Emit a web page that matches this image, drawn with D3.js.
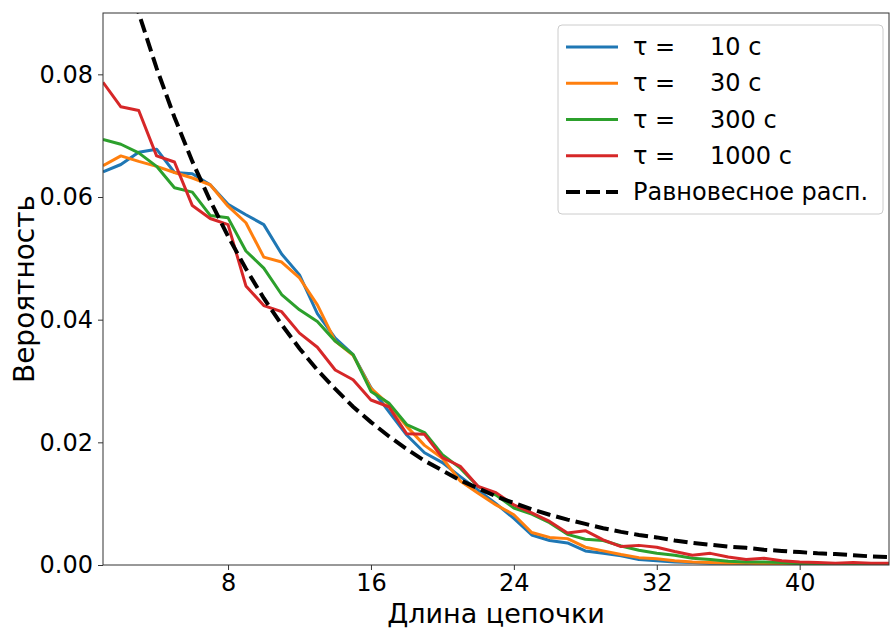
<!DOCTYPE html>
<html>
<head>
<meta charset="utf-8">
<script src="https://cdn.jsdelivr.net/npm/d3@7"></script>
<style>
  body { margin: 0; background: #fff; }
  text { font-family: "DejaVu Sans", sans-serif; fill: #000; }
</style>
</head>
<body>
<script>
// chain lengths
var lengths = d3.range(1, 46);

var tauLabels = ["10 с", "30 с", "300 с", "1000 с"];

var tau10 = [0.0641, 0.0653, 0.0673, 0.0678, 0.0640, 0.0638, 0.0620, 0.0588, 0.0571, 0.0555,
             0.0507, 0.0473, 0.0410, 0.0370, 0.0343, 0.0289, 0.0250, 0.0212, 0.0183, 0.0167,
             0.0144, 0.0122, 0.0100, 0.0076, 0.0049, 0.0040, 0.0036, 0.0023, 0.0019, 0.0015,
             0.0009, 0.0007, 0.0005, 0.0004, 0.0003, 0.0003, 0.0002, 0.0002, 0.0001, 0.0001,
             0.0001, 0.0000, 0.0000, 0.0000, 0.0000];

var tau30 = [0.0651, 0.0667, 0.0658, 0.0650, 0.0640, 0.0631, 0.0620, 0.0585, 0.0558, 0.0502,
             0.0494, 0.0468, 0.0424, 0.0365, 0.0342, 0.0288, 0.0262, 0.0226, 0.0195, 0.0174,
             0.0137, 0.0117, 0.0098, 0.0082, 0.0053, 0.0045, 0.0043, 0.0029, 0.0023, 0.0017,
             0.0012, 0.0010, 0.0007, 0.0005, 0.0004, 0.0003, 0.0003, 0.0002, 0.0002, 0.0001,
             0.0001, 0.0000, 0.0000, 0.0000, 0.0000];

var tau300 = [0.0694, 0.0686, 0.0672, 0.0650, 0.0615, 0.0608, 0.0570, 0.0566, 0.0512, 0.0484,
              0.0441, 0.0416, 0.0397, 0.0365, 0.0343, 0.0283, 0.0264, 0.0229, 0.0216, 0.0180,
              0.0158, 0.0128, 0.0114, 0.0093, 0.0083, 0.0069, 0.0050, 0.0042, 0.0040, 0.0031,
              0.0024, 0.0019, 0.0016, 0.0011, 0.0009, 0.0006, 0.0005, 0.0005, 0.0004, 0.0002,
              0.0001, 0.0001, 0.0000, 0.0000, 0.0000];

var tau1000 = [0.0787, 0.0747, 0.0741, 0.0667, 0.0657, 0.0586, 0.0565, 0.0555, 0.0455, 0.0423,
               0.0413, 0.0378, 0.0355, 0.0318, 0.0302, 0.0269, 0.0258, 0.0214, 0.0213, 0.0175,
               0.0161, 0.0128, 0.0118, 0.0098, 0.0085, 0.0071, 0.0052, 0.0056, 0.0041, 0.0030,
               0.0032, 0.0029, 0.0022, 0.0016, 0.0019, 0.0013, 0.0009, 0.0011, 0.0007, 0.0005,
               0.0004, 0.0003, 0.0004, 0.0003, 0.0003];

// equilibrium distribution (dashed)
var equil = [0.1110, 0.1000, 0.0900, 0.0810, 0.0730, 0.0658, 0.0594, 0.0536, 0.0483, 0.0435,
             0.0392, 0.0353, 0.0318, 0.0287, 0.0258, 0.0233, 0.0210, 0.0189, 0.0170, 0.0154,
             0.0138, 0.0125, 0.0112, 0.0101, 0.0091, 0.0082, 0.0074, 0.0067, 0.0060, 0.0054,
             0.0049, 0.0045, 0.0040, 0.0036, 0.0033, 0.0030, 0.0028, 0.0025, 0.0023, 0.0021,
             0.0019, 0.0018, 0.0016, 0.0014, 0.0013];

var xTicks = [8, 16, 24, 32, 40];
var yTicks = [0, 0.02, 0.04, 0.06, 0.08];

var seriesList = [tau10, tau30, tau300, tau1000];
var colors = ["#1f77b4", "#ff7f0e", "#2ca02c", "#d62728"];

var width = 890, height = 628,
    margin = {top: 13, left: 103, bottom: 63, right: 1},
    plotW = width - margin.left - margin.right,
    plotH = height - margin.top - margin.bottom;

var svg = d3.select("body").append("svg")
    .attr("width", width)
    .attr("height", height);

var x = d3.scaleLinear().domain([1, 45]).range([margin.left, margin.left + plotW]);
var y = d3.scaleLinear().domain([0, 0.09]).range([margin.top + plotH, margin.top]);

svg.append("clipPath")
    .attr("id", "plotclip")
    .append("rect")
    .attr("x", margin.left)
    .attr("y", margin.top)
    .attr("width", plotW)
    .attr("height", plotH);

var line = d3.line()
    .x(function (d, i) { return x(lengths[i]); })
    .y(function (d) { return y(d); });

var plot = svg.append("g").attr("clip-path", "url(#plotclip)");

seriesList.forEach(function (s, k) {
    plot.append("path")
        .datum(s)
        .attr("d", line)
        .attr("fill", "none")
        .attr("stroke", colors[k])
        .attr("stroke-width", 3)
        .attr("stroke-linejoin", "round");
});

plot.append("path")
    .datum(equil)
    .attr("d", line)
    .attr("fill", "none")
    .attr("stroke", "#000")
    .attr("stroke-width", 4)
    .attr("stroke-dasharray", "14,6");

// axes
var xAxis = svg.append("g")
    .attr("transform", "translate(0," + (margin.top + plotH) + ")")
    .call(d3.axisBottom(x).tickValues(xTicks).tickSize(5).tickPadding(4).tickFormat(d3.format("d")));

var yAxis = svg.append("g")
    .attr("transform", "translate(" + margin.left + ",0)")
    .call(d3.axisLeft(y).tickValues(yTicks).tickSize(5).tickPadding(5).tickFormat(d3.format(".2f")));

[xAxis, yAxis].forEach(function (a) {
    a.select(".domain").remove();
    a.selectAll("line").attr("stroke", "#333").attr("stroke-width", 1);
    a.selectAll("text").style("font-size", "24px").attr("fill", "#000");
});

// frame
svg.append("rect")
    .attr("x", margin.left)
    .attr("y", margin.top)
    .attr("width", plotW)
    .attr("height", plotH)
    .attr("fill", "none")
    .attr("stroke", "#333")
    .attr("stroke-width", 1);

svg.append("text")
    .attr("x", margin.left + plotW / 2)
    .attr("y", 623)
    .attr("text-anchor", "middle")
    .style("font-size", "27px")
    .text("Длина цепочки");

svg.append("text")
    .attr("transform", "translate(34," + (margin.top + plotH / 2) + ") rotate(-90)")
    .attr("text-anchor", "middle")
    .style("font-size", "28px")
    .text("Вероятность");

// legend
var legend = svg.append("g");

legend.append("rect")
    .attr("x", 558)
    .attr("y", 25)
    .attr("width", 325)
    .attr("height", 189)
    .attr("rx", 4)
    .attr("fill", "#fff")
    .attr("fill-opacity", 0.8)
    .attr("stroke", "#ccc");

var legendY = d3.scalePoint().domain(d3.range(5)).range([47, 192]);

tauLabels.forEach(function (lab, k) {
    var ly = legendY(k);
    legend.append("line")
        .attr("x1", 566).attr("x2", 618)
        .attr("y1", ly).attr("y2", ly)
        .attr("stroke", colors[k])
        .attr("stroke-width", 3);
    var t = legend.append("text")
        .attr("y", ly + 8)
        .style("font-size", "24px");
    t.append("tspan").attr("x", 633).text("τ =");
    t.append("tspan").attr("x", 710).text(lab);
});

legend.append("line")
    .attr("x1", 566).attr("x2", 618)
    .attr("y1", legendY(4)).attr("y2", legendY(4))
    .attr("stroke", "#000")
    .attr("stroke-width", 4)
    .attr("stroke-dasharray", "14,6");

legend.append("text")
    .attr("x", 633)
    .attr("y", legendY(4) + 8)
    .style("font-size", "24px")
    .text("Равновесное расп.");
</script>
</body>
</html>
